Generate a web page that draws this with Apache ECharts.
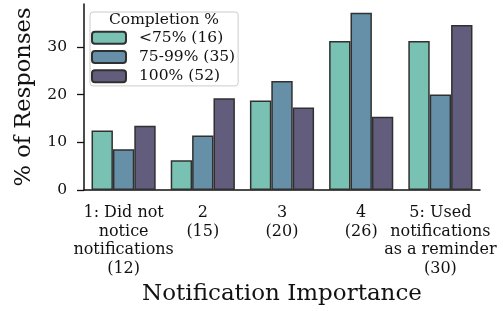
<!DOCTYPE html>
<html lang="en">
<head>
  <meta charset="UTF-8">
  <title>Notification Importance</title>
  <script src="https://cdn.jsdelivr.net/npm/echarts@6/dist/echarts.min.js"></script>
  <style>
    html, body { margin: 0; padding: 0; background: #fff; }
    #chart { width: 503px; height: 311px; }
  </style>
</head>
<body>
  <div id="chart"></div>
<script>
  const categories = [
    "1: Did not\nnotice\nnotifications\n(12)",
    "2\n(15)",
    "3\n(20)",
    "4\n(26)",
    "5: Used\nnotifications\nas a reminder\n(30)"
  ];
  const seriesNames = ["<75% (16)", "75-99% (35)", "100% (52)"];
  const under75 = [12.5, 6.25, 18.75, 31.25, 31.25];
  const mid75to99 = [8.57, 11.43, 22.86, 37.14, 20.0];
  const full100 = [13.46, 19.23, 17.31, 15.38, 34.62];
  const colors = ["#79c2b3", "#6690a8", "#635d7d"];
  const yTicks = [0, 10, 20, 30];

  const font = "DejaVu Serif";

  function makeSeries(name, values, color) {
    return {
      name: name,
      type: "bar",
      data: values,
      barGap: "0%",
      barCategoryGap: "19%",
      itemStyle: { color: color, borderColor: "#303030", borderWidth: 1.5 }
    };
  }

  const chart = echarts.init(document.getElementById("chart"));
  chart.setOption({
    animation: false,
    textStyle: { fontFamily: font },
    grid: { left: 84, right: 23, top: 4, bottom: 121 },
    legend: {
      orient: "vertical",
      left: 90,
      top: 12,
      padding: [16, 3, 0, 1],
      itemWidth: 34,
      itemHeight: 12,
      itemGap: 0,
      borderColor: "#cccccc",
      borderWidth: 1,
      borderRadius: 3,
      backgroundColor: "rgba(255,255,255,0.8)",
      textStyle: { fontFamily: font, fontSize: 15.5, lineHeight: 19.3, color: "#111", padding: [0, 0, 0, 8] },
      data: seriesNames
    },
    graphic: [{
      type: "text",
      x: 164,
      y: 20,
      z: 100,
      style: {
        text: "Completion %",
        font: "15.5px 'DejaVu Serif'",
        fill: "#111",
        align: "center",
        verticalAlign: "middle"
      }
    }],
    xAxis: {
      type: "category",
      data: categories,
      name: "Notification Importance",
      nameLocation: "middle",
      nameGap: 92,
      nameTextStyle: { fontFamily: font, fontSize: 23, color: "#111" },
      axisLine: { lineStyle: { color: "#111", width: 1.5 } },
      axisTick: { alignWithLabel: true, length: 7, lineStyle: { color: "#111", width: 1.3 } },
      axisLabel: { fontFamily: font, fontSize: 16, lineHeight: 18.5, color: "#111", margin: 14, interval: 0 }
    },
    yAxis: {
      type: "value",
      min: 0,
      max: 39,
      interval: 10,
      name: "% of Responses",
      nameLocation: "middle",
      nameGap: 48,
      nameTextStyle: { fontFamily: font, fontSize: 22.6, color: "#111" },
      splitLine: { show: false },
      axisLine: { show: true, lineStyle: { color: "#111", width: 1.5 } },
      axisTick: { show: true, length: 7, customValues: yTicks, lineStyle: { color: "#111", width: 1.3 } },
      axisLabel: { fontFamily: font, fontSize: 15.5, color: "#111", margin: 17, customValues: yTicks }
    },
    series: [
      makeSeries(seriesNames[0], under75, colors[0]),
      makeSeries(seriesNames[1], mid75to99, colors[1]),
      makeSeries(seriesNames[2], full100, colors[2])
    ]
  });
</script>
</body>
</html>
